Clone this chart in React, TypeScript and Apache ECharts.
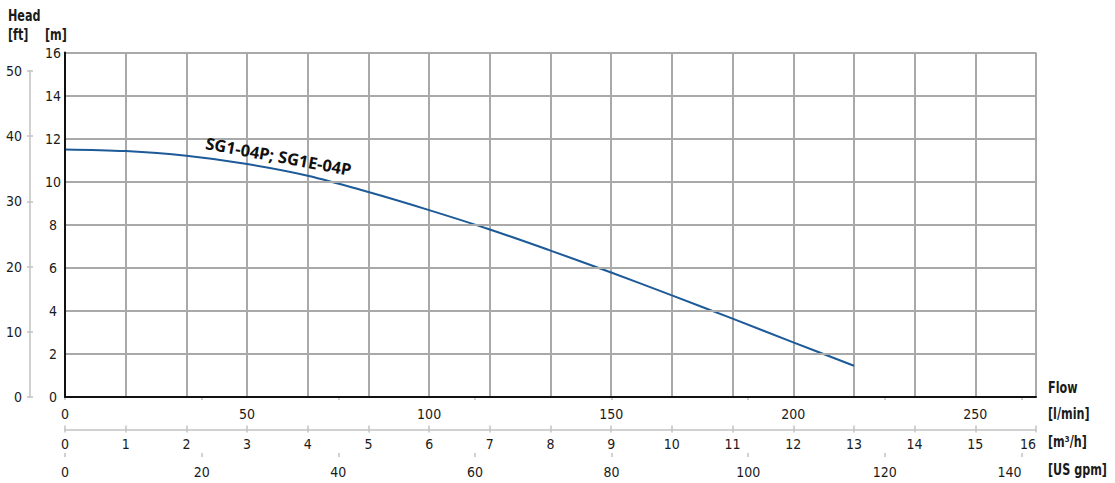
import React, { useEffect, useRef } from "react";
import * as echarts from "echarts";

// Flow in m³/h and head in m
const flowM3h = [0, 1, 2, 3, 4, 5, 6, 7, 8, 9, 10, 11, 12, 13];
const headM = [11.5, 11.42, 11.2, 10.82, 10.28, 9.52, 8.68, 7.78, 6.8, 5.78, 4.72, 3.64, 2.54, 1.45];

const curveName = "SG1-04P; SG1E-04P";
const headTitle = "Head";
const ftUnit = "[ft]";
const mUnit = "[m]";
const flowTitle = "Flow";
const unitLmin = "[l/min]";
const unitM3h = "[m³/h]";
const unitGpm = "[US gpm]";

const M3H_MAX = 16;
const LMIN_MAX = (M3H_MAX * 1000) / 60;
const LMIN_STEP = 50;
const GPM_MAX = 140;
const GPM_STEP = 20;
const FT_MAX = 50;
const FT_STEP = 10;
const M_MAX = 16;
const M_STEP = 2;

const NARROW = "'Liberation Sans Narrow', 'DejaVu Sans Condensed', 'Roboto', sans-serif";
const BOLD_SANS = "'Noto Sans', 'Open Sans', 'DejaVu Sans', sans-serif";
const LIGHT = "#c2c2c2";
const GRIDC = "#a9a9a9";
const TXT = "#1a1a1a";

function title(text: string, x: number, y: number) {
  return {
    type: "text",
    x,
    y,
    scaleX: 0.83,
    style: {
      text,
      font: `bold 15px ${NARROW}`,
      fill: TXT,
      align: "left",
      verticalAlign: "middle",
      textAlign: "left",
      textVerticalAlign: "middle",
    },
  };
}

export default function App() {
  const ref = useRef<HTMLDivElement>(null);

  useEffect(() => {
    if (!ref.current) return;
    const chart = echarts.init(ref.current, null, { renderer: "svg" });

    const labelStyle = { fontFamily: NARROW, fontSize: 14, color: TXT };

    const option: any = {
      animation: false,
      backgroundColor: "#ffffff",
      grid: [
        { left: 65, right: 79, top: 52.5, bottom: 86 },
        { left: 65, right: 93.5, top: 52.5, bottom: 86 },
        { left: 30, right: 1000, top: 71, bottom: 86 },
      ],
      xAxis: [
        {
          // l/min (labels only, black bottom frame)
          type: "value",
          gridIndex: 0,
          position: "bottom",
          offset: 0,
          min: 0,
          max: LMIN_MAX,
          interval: LMIN_STEP,
          axisLine: { show: true, lineStyle: { color: "#111", width: 2 } },
          axisTick: { show: false },
          splitLine: { show: false },
          axisLabel: {
            ...labelStyle,
            margin: 10,
            formatter: (v: number) => (Math.abs(v % LMIN_STEP) < 1e-6 ? String(v) : ""),
          },
          z: 5,
        },
        {
          // m³/h
          type: "value",
          gridIndex: 0,
          position: "bottom",
          offset: 32.5,
          min: 0,
          max: M3H_MAX,
          interval: 1,
          axisLine: { show: true, lineStyle: { color: LIGHT, width: 1.5 } },
          axisTick: { show: true, length: 3, lineStyle: { color: LIGHT, width: 1.5 } },
          splitLine: { show: true, lineStyle: { color: GRIDC, width: 2 } },
          axisLabel: { ...labelStyle, margin: 7, alignMaxLabel: "right" },
        },
        {
          // m³/h inner ticks
          type: "value",
          gridIndex: 0,
          position: "bottom",
          offset: 32.5,
          min: 0,
          max: M3H_MAX,
          interval: 1,
          axisLine: { show: false },
          axisTick: { show: true, inside: true, length: 4, lineStyle: { color: LIGHT, width: 1.5 } },
          splitLine: { show: false },
          axisLabel: { show: false },
        },
        {
          // US gpm
          type: "value",
          gridIndex: 1,
          position: "bottom",
          offset: 60,
          min: 0,
          max: GPM_MAX,
          interval: GPM_STEP,
          axisLine: { show: true, lineStyle: { color: LIGHT, width: 1.5 } },
          axisTick: { show: true, length: 3, lineStyle: { color: LIGHT, width: 1.5 } },
          splitLine: { show: false },
          axisLabel: { ...labelStyle, margin: 7.5, alignMaxLabel: "right" },
        },
        {
          type: "value",
          gridIndex: 1,
          position: "bottom",
          offset: 60,
          min: 0,
          max: GPM_MAX,
          interval: GPM_STEP,
          axisLine: { show: false },
          axisTick: { show: true, inside: true, length: 4, lineStyle: { color: LIGHT, width: 1.5 } },
          splitLine: { show: false },
          axisLabel: { show: false },
        },
        { type: "value", gridIndex: 2, show: false, min: 0, max: 1 },
      ],
      yAxis: [
        {
          // m
          type: "value",
          gridIndex: 0,
          position: "left",
          min: 0,
          max: M_MAX,
          interval: M_STEP,
          axisLine: { show: true, lineStyle: { color: "#111", width: 2 } },
          axisTick: { show: false },
          splitLine: { show: true, lineStyle: { color: GRIDC, width: 2 } },
          axisLabel: { ...labelStyle, align: "center", margin: 12 },
          z: 5,
        },
        { type: "value", gridIndex: 1, show: false, min: 0, max: 1 },
        {
          // ft
          type: "value",
          gridIndex: 2,
          position: "left",
          min: 0,
          max: FT_MAX,
          interval: FT_STEP,
          axisLine: { show: true, lineStyle: { color: LIGHT, width: 1.5 } },
          axisTick: { show: true, length: 3, lineStyle: { color: LIGHT, width: 1.5 } },
          splitLine: { show: false },
          axisLabel: { ...labelStyle, margin: 8 },
        },
        {
          type: "value",
          gridIndex: 2,
          position: "left",
          min: 0,
          max: FT_MAX,
          interval: FT_STEP,
          axisLine: { show: false },
          axisTick: { show: true, inside: true, length: 3, lineStyle: { color: LIGHT, width: 1.5 } },
          splitLine: { show: false },
          axisLabel: { show: false },
        },
      ],
      series: [
        {
          name: curveName,
          type: "line",
          xAxisIndex: 1,
          yAxisIndex: 0,
          data: flowM3h.map((q, i) => [q, headM[i]]),
          smooth: 0.35,
          showSymbol: false,
          symbol: "none",
          lineStyle: { color: "#1d5a98", width: 2 },
          z: 3,
        },
      ],
      graphic: [
        title(headTitle, 8, 16),
        title(ftUnit, 8, 35),
        title(mUnit, 45, 35),
        title(flowTitle, 1048, 387.5),
        title(unitLmin, 1048, 414),
        title(unitM3h, 1048, 441.5),
        title(unitGpm, 1048, 469.5),
        {
          type: "text",
          x: 278.5,
          y: 156,
          rotation: -0.183,
          style: {
            text: curveName,
            font: `bold 16.5px ${BOLD_SANS}`,
            fill: "#111",
            align: "center",
            verticalAlign: "middle",
            textAlign: "center",
            textVerticalAlign: "middle",
          },
          z: 10,
        },
      ],
    };

    chart.setOption(option);
    return () => chart.dispose();
  }, []);

  return (
    <div
      ref={ref}
      style={{ position: "absolute", left: 0, top: 0, width: 1115, height: 483, background: "#fff" }}
    />
  );
}
